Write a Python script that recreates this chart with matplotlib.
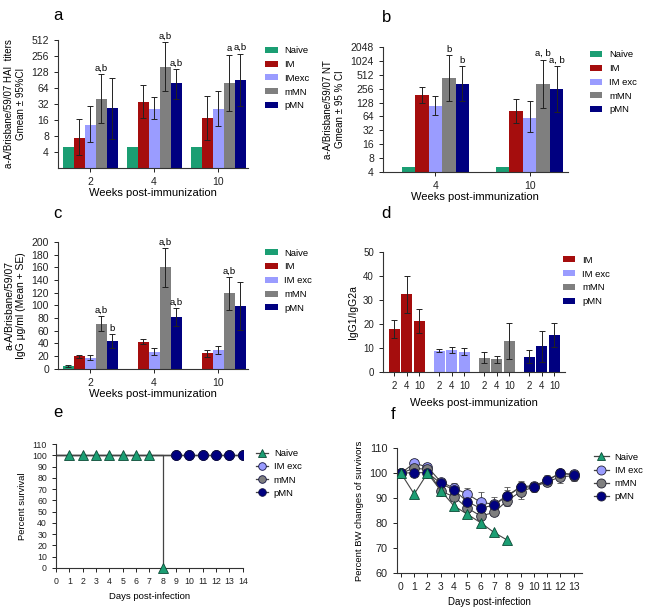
import numpy as np
import matplotlib.pyplot as plt
from matplotlib.patches import Patch
from matplotlib.lines import Line2D

plt.rcParams['font.family'] = ['Liberation Sans', 'DejaVu Sans']
plt.rcParams['font.size'] = 7
plt.rcParams['axes.linewidth'] = 0.8
plt.rcParams['xtick.major.width'] = 0.7
plt.rcParams['ytick.major.width'] = 0.7
plt.rcParams['xtick.major.size'] = 3
plt.rcParams['ytick.major.size'] = 3
plt.rcParams['xtick.labelsize'] = 7.5
plt.rcParams['ytick.labelsize'] = 7.5

nan = np.nan

# ---- data ----
series = ['Naive', 'IM', 'IMexc', 'mMN', 'pMN']
series_b = ['Naive', 'IM', 'IM exc', 'mMN', 'pMN']
colors = ['#1b9e73', '#a50d0d', '#9a9cff', '#7f7f7f', '#000080']

# a: HAI titers (gmean, 95% CI)
weeks_a = ['2', '4', '10']
hai_mean = [[5, 5, 5], [7.5, 35, 17.2], [13.2, 26.2, 26.2], [40.5, 162, 82], [26.7, 82, 92]]
hai_lo = [[nan, nan, nan], [3.5, 17.2, 6.9], [6.2, 16.5, 12.3], [14.2, 56, 24], [7.2, 39.5, 30]]
hai_hi = [[nan, nan, nan], [16.5, 73, 46], [29, 43, 58], [118, 468, 275], [100, 146, 286]]
hai_sig = [(0, 3, 'a,b'), (1, 3, 'a,b'), (1, 4, 'a,b'), (2, 3, 'a'), (2, 4, 'a,b')]

# b: NT titers
weeks_b = ['4', '10']
nt_mean = [[5, 5], [190, 83], [107, 60], [434, 329], [329, 247]]
nt_lo = [[nan, nan], [125, 45], [68, 28.5], [136, 97], [136, 80]]
nt_hi = [[nan, nan], [278, 150], [175, 136], [1350, 1090], [780, 780]]
nt_sig = [(0, 3, 'b'), (0, 4, 'b'), (1, 3, 'a, b'), (1, 4, 'a, b')]

# c: IgG ug/ml (mean, SE)
igg_mean = [[4.7, 0, 0], [19.5, 42.7, 24.3], [17.4, 27, 29.5], [71, 160, 119], [44, 81, 99]]
igg_se = [[1.5, nan, nan], [2, 4, 5.5], [4, 5, 7], [12, 31, 26], [11, 14, 38]]
igg_sig = [(0, 3, 'a,b'), (0, 4, 'b'), (1, 3, 'a,b'), (1, 4, 'a,b'), (2, 3, 'a,b')]

# d: IgG1/IgG2a
series_d = ['IM', 'IM exc', 'mMN', 'pMN']
ratio_mean = [[17.7, 32.2, 21.3], [8.7, 9.0, 8.3], [5.8, 5.2, 12.8], [6.3, 10.5, 15.3]]
ratio_err = [[3.8, 7.8, 5.0], [0.7, 1.4, 1.4], [2.2, 1.5, 7.5], [2.7, 6.3, 5.0]]

# e: survival
naive_days = [0, 1, 2, 3, 4, 5, 6, 7, 8]
naive_surv = [100, 100, 100, 100, 100, 100, 100, 100, 0]
vacc_days = list(range(15))
vacc_surv = [100] * 15

# f: body weight
bw_days = list(range(14))
bw_naive = [100, 91.6, 100, 93, 86.8, 83.5, 80.1, 76.2, 73.1]
bw_imexc = [100, 104, 102.5, 96.5, 94, 91.6, 88.3, 87.5, 91, 94.5, 95, 97, 100, 99.5]
bw_imexc_err = [0.5, 1.5, 1.5, 1.5, 2, 2.5, 4, 3, 3.5, 2.5, 1.5, 1.5, 1.5, 1.5]
bw_mmn = [100, 102, 101.5, 92.8, 90.5, 86, 82.8, 84.2, 89, 92.5, 94.5, 96.5, 98.5, 99]
bw_mmn_err = [0.5, 1.5, 1.5, 1.5, 1.5, 1.5, 1, 1, 2, 3, 1.5, 1.5, 2.5, 2]
bw_pmn = [100, 100.2, 100.2, 95.9, 93.2, 88.5, 85.9, 87.2, 90.7, 94.4, 94.4, 97.3, 100, 99.3]
bw_pmn_err = [0.5, 1, 1.5, 1.5, 1.5, 2, 2, 2, 2.5, 2, 2, 2, 1.5, 2]


def style(ax):
    for s in ['top', 'right']:
        ax.spines[s].set_visible(False)
    for s in ['left', 'bottom']:
        ax.spines[s].set_color('#333333')
    ax.tick_params(colors='#222222')


def bar_legend(ax, names, cols, anchor):
    handles = [Patch(facecolor=c, edgecolor='none') for c in cols]
    ax.legend(handles, names, loc='upper left', bbox_to_anchor=anchor, frameon=False,
              handlelength=1.3, handleheight=0.6, labelspacing=0.5, fontsize=6.8,
              borderaxespad=0, handletextpad=0.7)


def line_legend(ax, handles, names, anchor, hl):
    ax.legend(handles, names, loc='upper left', bbox_to_anchor=anchor, frameon=False,
              handlelength=hl, labelspacing=0.45, fontsize=6.8, borderaxespad=0,
              handletextpad=0.6)


def grouped(ax, means, lo, hi, width, base, sig, log=True):
    ngroup = len(means[0])
    x = np.arange(ngroup)
    tops = {}
    for i, (m, c) in enumerate(zip(means, colors)):
        xs = x + (i - 2) * width
        m = np.array(m, float)
        ax.bar(xs, m - base, width, bottom=base, color=c, edgecolor='none', zorder=2)
        l = np.array(lo[i], float)
        h = np.array(hi[i], float)
        ax.errorbar(xs, m, yerr=[m - l, h - m], fmt='none', ecolor='#222222',
                    elinewidth=0.7, capsize=2.5, capthick=0.7, zorder=3)
        for g in range(ngroup):
            tops[(g, i)] = (xs[g], h[g])
    for g, i, t in sig:
        xx, yy = tops[(g, i)]
        if log:
            ax.text(xx, yy * 1.08, t, ha='center', va='bottom', fontsize=6.8)
        else:
            ax.text(xx, yy + 2, t, ha='center', va='bottom', fontsize=6.8)


fig = plt.figure(figsize=(6.49, 6.11), dpi=100)

# ---- a ----
ax = fig.add_axes([0.0894, 0.725, 0.293, 0.2095])
grouped(ax, hai_mean, hai_lo, hai_hi, 0.172, 2, hai_sig)
ax.set_yscale('log', base=2)
ax.set_ylim(2, 520)
ticks = [4, 8, 16, 32, 64, 128, 256, 512]
ax.set_yticks(ticks)
ax.set_yticklabels([str(t) for t in ticks])
ax.minorticks_off()
ax.set_xlim(-0.5, 2.47)
ax.set_xticks(range(3))
ax.set_xticklabels(weeks_a)
ax.set_xlabel('Weeks post-immunization', fontsize=8, labelpad=1)
ax.set_ylabel('a-A/Brisbane/59/07 HAI  titers\nGmean \u00b1 95%CI', fontsize=7)
style(ax)
bar_legend(ax, series, colors, (1.07, 0.98))
fig.text(0.082, 0.975, 'a', fontsize=12, va='center')

# ---- b ----
ax = fig.add_axes([0.590, 0.719, 0.285, 0.2046])
grouped(ax, nt_mean, nt_lo, nt_hi, 0.143, 4, nt_sig)
ax.set_yscale('log', base=2)
ax.set_ylim(4, 2100)
ticks = [4, 8, 16, 32, 64, 128, 256, 512, 1024, 2048]
ax.set_yticks(ticks)
ax.set_yticklabels([str(t) for t in ticks])
ax.minorticks_off()
ax.set_xlim(-0.557, 1.405)
ax.set_xticks(range(2))
ax.set_xticklabels(weeks_b)
ax.set_xlabel('Weeks post-immunization', fontsize=8, labelpad=1)
ax.set_ylabel('a-A/Brisbane/59/07 NT\nGmean \u00b1 95 % CI', fontsize=7)
style(ax)
bar_legend(ax, series_b, colors, (1.10, 1.0))
fig.text(0.588, 0.972, 'b', fontsize=12, va='center')

# ---- c ----
ax = fig.add_axes([0.0894, 0.3966, 0.293, 0.2074])
se = np.array(igg_se, float)
mean = np.array(igg_mean, float)
grouped(ax, igg_mean, (mean - se).tolist(), (mean + se).tolist(), 0.172, 0, igg_sig, log=False)
ax.set_ylim(0, 200)
ax.set_yticks(range(0, 201, 20))
ax.set_xlim(-0.5, 2.47)
ax.set_xticks(range(3))
ax.set_xticklabels(weeks_a)
ax.set_xlabel('Weeks post-immunization', fontsize=8, labelpad=1)
ax.set_ylabel('a-A/Brisbane/59/07\nIgG \u03bcg/ml (Mean + SE)', fontsize=7.5)
style(ax)
bar_legend(ax, series_b, colors, (1.07, 0.976))
fig.text(0.082, 0.651, 'c', fontsize=12, va='center')

# ---- d ----
ax = fig.add_axes([0.590, 0.3917, 0.2804, 0.1964])
xt, xl = [], []
for i, (m, e) in enumerate(zip(ratio_mean, ratio_err)):
    xs = np.arange(3) + i * 3.6
    ax.bar(xs, m, 0.88, color=colors[i + 1], edgecolor='none', zorder=2)
    ax.errorbar(xs, m, yerr=e, fmt='none', ecolor='#222222', elinewidth=0.7,
                capsize=2.5, capthick=0.7, zorder=3)
    xt += list(xs)
    xl += weeks_a
ax.set_xticks(xt)
ax.set_xticklabels(xl)
ax.tick_params(labelsize=7)
ax.set_xlim(-0.92, 13.64)
ax.set_ylim(0, 50)
ax.set_yticks(range(0, 51, 10))
ax.set_xlabel('Weeks post-immunization', fontsize=8, labelpad=5)
ax.set_ylabel('IgG1/IgG2a', fontsize=7.5)
style(ax)
bar_legend(ax, series_d, colors[1:], (0.97, 0.997))
fig.text(0.588, 0.651, 'd', fontsize=12, va='center')

# ---- e ----
ax = fig.add_axes([0.0863, 0.0704, 0.2877, 0.2029])
line_c = '#444444'
for name, c in zip(['IM exc', 'mMN', 'pMN'], colors[2:]):
    ax.plot(vacc_days, vacc_surv, color=line_c, lw=0.9, marker='o', ms=7,
            mfc=c, mec='#111144', mew=0.6, markevery=list(range(9, 15)), zorder=2)
ax.step(naive_days, naive_surv, where='post', color=line_c, lw=0.9, zorder=2)
ax.plot(naive_days[1:], naive_surv[1:], ls='none', marker='^', ms=7,
        mfc=colors[0], mec='#0c4a36', mew=0.6, zorder=3, clip_on=False)
ax.set_xlim(0, 14)
ax.set_ylim(0, 110)
ax.set_xticks(range(15))
ax.set_yticks(range(0, 111, 10))
ax.tick_params(labelsize=6.3)
ax.set_xlabel('Days post-infection', fontsize=6.8)
ax.set_ylabel('Percent survival', fontsize=6.8)
style(ax)
hs = [Line2D([], [], color=line_c, lw=0.9, marker='^', ms=5.5, mfc=colors[0], mec='#0c4a36', mew=0.6)]
hs += [Line2D([], [], color=line_c, lw=0.9, marker='o', ms=5.5, mfc=c, mec='#111144', mew=0.6)
       for c in colors[2:]]
line_legend(ax, hs, ['Naive', 'IM exc', 'mMN', 'pMN'], (1.05, 0.99), 1.3)
fig.text(0.082, 0.325, 'e', fontsize=12, va='center')

# ---- f ----
ax = fig.add_axes([0.6112, 0.0627, 0.285, 0.2036])
for vals, err, c in zip([bw_imexc, bw_mmn, bw_pmn], [bw_imexc_err, bw_mmn_err, bw_pmn_err], colors[2:]):
    ax.errorbar(bw_days, vals, yerr=err, color=line_c, lw=0.8, ecolor='#555555',
                elinewidth=0.7, capsize=2.5, capthick=0.7, marker='o', ms=7,
                mfc=c, mec='#222233', mew=0.6, zorder=2)
ax.plot(bw_days[:len(bw_naive)], bw_naive, color=line_c, lw=0.8, marker='^', ms=6.5,
        mfc=colors[0], mec='#0c4a36', mew=0.6, zorder=3)
ax.set_xlim(-0.32, 13.6)
ax.set_ylim(60, 110)
ax.set_xticks(range(14))
ax.set_yticks(range(60, 111, 10))
ax.tick_params(axis='y', labelsize=7.8)
ax.tick_params(axis='x', labelsize=7.5)
ax.set_xlabel('Days post-infection', fontsize=7)
ax.set_ylabel('Percent BW changes of survivors', fontsize=6.8)
style(ax)
hs = [Line2D([], [], color=line_c, lw=0.9, marker='^', ms=6, mfc=colors[0], mec='#0c4a36', mew=0.6)]
hs += [Line2D([], [], color=line_c, lw=0.9, marker='o', ms=6.5, mfc=c, mec='#222233', mew=0.6)
       for c in colors[2:]]
line_legend(ax, hs, ['Naive', 'IM exc', 'mMN', 'pMN'], (1.045, 0.995), 1.6)
fig.text(0.602, 0.321, 'f', fontsize=12, va='center')

fig.savefig('out.png', dpi=100)
